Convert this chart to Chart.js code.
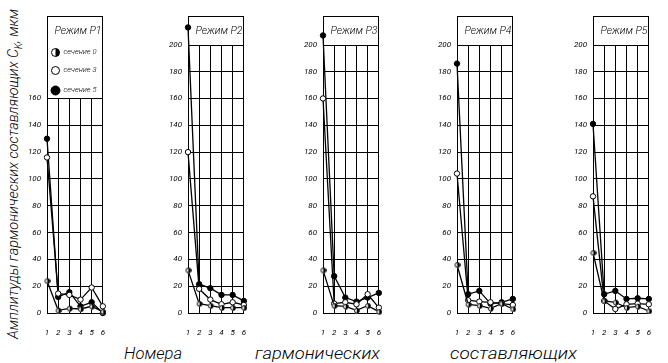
<!DOCTYPE html>
<html>
<head>
<meta charset="utf-8">
<script src="https://cdn.jsdelivr.net/npm/chart.js@4.4.0/dist/chart.umd.min.js"></script>
<style>
  body { margin:0; background:#fff; width:668px; height:363px; overflow:hidden; position:relative; }
  canvas { position:absolute; top:0; }
  svg { position:absolute; left:0; top:0; }
  svg text { font-family:Roboto,'Liberation Sans Narrow',sans-serif; font-weight:300; font-style:italic; fill:#000; }
</style>
</head>
<body>
<svg width="668" height="363">
  <text transform="translate(18,339) rotate(-90)" font-size="15" textLength="330" lengthAdjust="spacingAndGlyphs">Амплитуды гармонических составляющих C<tspan font-size="10" dy="4">K</tspan><tspan dy="-4">, мкм</tspan></text>
  <text x="124" y="359" font-size="16" textLength="58" lengthAdjust="spacingAndGlyphs">Номера</text>
  <text x="255" y="359" font-size="16" textLength="125" lengthAdjust="spacingAndGlyphs">гармонических</text>
  <text x="450" y="359" font-size="16" textLength="127" lengthAdjust="spacingAndGlyphs">составляющих</text>
</svg>
<script>
// номера гармоник
const harmonics = [1, 2, 3, 4, 5, 6];
const modes = ['Режим Р1', 'Режим Р2', 'Режим Р3', 'Режим Р4', 'Режим Р5'];
const sectionLabels = ['сечение 0', 'сечение 3', 'сечение 5'];

// амплитуды, мкм (по режимам Р1..Р5)
const sec0 = [
  [24, 2, 3.5, 3, 5, 1],
  [32, 7, 5.5, 4, 4, 4],
  [32, 5.5, 5, 2, 5.5, 1],
  [36, 6.5, 5.5, 3.5, 7, 3],
  [45, 9, 8, 4, 5, 1.5]
];
const sec3 = [
  [116, 14.5, 13.5, 10, 19, 5],
  [120, 18, 10, 6.5, 8, 6],
  [160, 7, 8, 6.5, 14, 4],
  [104, 9.5, 8.5, 8, 7, 6],
  [87, 9, 3, 6.5, 7, 6.5]
];
const sec5 = [
  [130, 12, 15.5, 5, 8, 0],
  [213, 21.5, 18.5, 13.5, 13.5, 9],
  [207, 27.5, 11.5, 8.5, 11.5, 15],
  [186, 14, 16.5, 7, 8, 10.5],
  [141, 14, 16.5, 10.5, 11, 10.5]
];
// верхняя подписанная отметка оси Y
const yTop = [160, 200, 200, 200, 200];

const plotLeft = [47, 188, 323, 457, 593];
const plotW = 68;
const FONT = "Roboto,'Liberation Sans Narrow',sans-serif";

function halfDot(r) {
  const c = document.createElement('canvas');
  c.width = c.height = 2 * r + 2;
  const g = c.getContext('2d');
  const m = r + 1;
  g.fillStyle = '#fff';
  g.beginPath(); g.arc(m, m, r, 0, Math.PI * 2); g.fill();
  g.fillStyle = '#000';
  g.beginPath(); g.arc(m, m, r, -Math.PI / 2, Math.PI / 2); g.closePath(); g.fill();
  g.strokeStyle = '#000'; g.lineWidth = 1;
  g.beginPath(); g.arc(m, m, r - 0.5, 0, Math.PI * 2); g.stroke();
  return c;
}

function drawMarker(ctx, kind, x, y, r) {
  ctx.lineWidth = 1;
  ctx.strokeStyle = '#000';
  ctx.fillStyle = kind === 2 ? '#000' : '#fff';
  ctx.beginPath(); ctx.arc(x, y, r, 0, Math.PI * 2); ctx.fill(); ctx.stroke();
  if (kind === 0) {
    ctx.fillStyle = '#000';
    ctx.beginPath(); ctx.arc(x, y, r, -Math.PI / 2, Math.PI / 2); ctx.closePath(); ctx.fill();
  }
}

const boxPlugin = {
  id: 'modeBox',
  beforeDatasetsDraw(chart, args, opts) {
    const { ctx, chartArea: a, scales: { y } } = chart;
    const yb = Math.round(y.getPixelForValue(opts.boxFrom)) + 0.5;
    const l = Math.round(a.left) + 0.5, r = Math.round(a.right) - 0.5, t = Math.round(a.top) + 0.5;
    ctx.save();
    ctx.fillStyle = '#fff';
    ctx.fillRect(l, t, r - l, yb - t);
    ctx.strokeStyle = '#000';
    ctx.lineWidth = 1;
    ctx.strokeRect(l, t, r - l, yb - t);
    ctx.fillStyle = '#000';
    ctx.font = 'italic 300 10.5px ' + FONT;
    ctx.textAlign = 'center';
    ctx.textBaseline = 'middle';
    ctx.fillText(opts.title, (l + r) / 2 + 3, t + 15);
    if (opts.legend) {
      ctx.font = 'italic 300 7.5px ' + FONT;
      ctx.textAlign = 'left';
      const rows = [t + 36, t + 54, t + 74];
      chart.data.datasets.forEach((ds, i) => {
        drawMarker(ctx, i, l + 8, rows[i], i === 2 ? 4.5 : 4);
        ctx.fillStyle = '#000';
        ctx.fillText(ds.label, l + 16, rows[i]);
      });
    }
    ctx.restore();
  }
};

modes.forEach((mode, k) => {
  const cv = document.createElement('canvas');
  const W = 35 + plotW + 5, H = 345;
  cv.width = W; cv.height = H;
  cv.style.width = W + 'px'; cv.style.height = H + 'px';
  cv.style.left = (plotLeft[k] - 35) + 'px';
  document.body.appendChild(cv);

  const series = [sec0[k], sec3[k], sec5[k]];
  const fills = [halfDot(2.8), '#fff', '#000'];

  new Chart(cv, {
    type: 'line',
    data: {
      labels: harmonics,
      datasets: series.map((vals, i) => ({
        label: sectionLabels[i],
        data: harmonics.map((h, j) => ({ x: h, y: vals[j] })),
        borderColor: '#000',
        borderWidth: 1.3,
        pointStyle: i === 0 ? fills[0] : 'circle',
        pointRadius: 2.7,
        pointBorderWidth: 1,
        pointBorderColor: '#000',
        pointBackgroundColor: i === 0 ? '#000' : fills[i],
        tension: 0,
        clip: false
      }))
    },
    options: {
      responsive: false,
      animation: false,
      layout: { padding: { top: 16, right: 5, left: 0, bottom: 0 } },
      plugins: {
        legend: { display: false },
        tooltip: { enabled: false },
        modeBox: { title: mode, boxFrom: yTop[k], legend: k === 0 }
      },
      scales: {
        x: {
          type: 'linear', min: 1, max: 6,
          afterFit: s => { s.height = H - 313; },
          ticks: { stepSize: 1, padding: 15, maxRotation: 0, color: '#000',
                   font: { family: FONT, size: 8, style: 'italic', weight: 400 } },
          grid: { color: '#000', lineWidth: 1, drawTicks: false },
          border: { color: '#000' }
        },
        y: {
          min: 0, max: 221.5,
          afterFit: s => { s.width = 35; },
          ticks: { stepSize: 20, includeBounds: false, padding: 6, color: '#000',
                   font: { family: FONT, size: 8, style: 'italic', weight: 400 },
                   callback: v => v <= yTop[k] ? v : '' },
          grid: { color: '#000', lineWidth: 1, drawTicks: false },
          border: { color: '#000' }
        }
      }
    },
    plugins: [boxPlugin]
  });
});
</script>
</body>
</html>
